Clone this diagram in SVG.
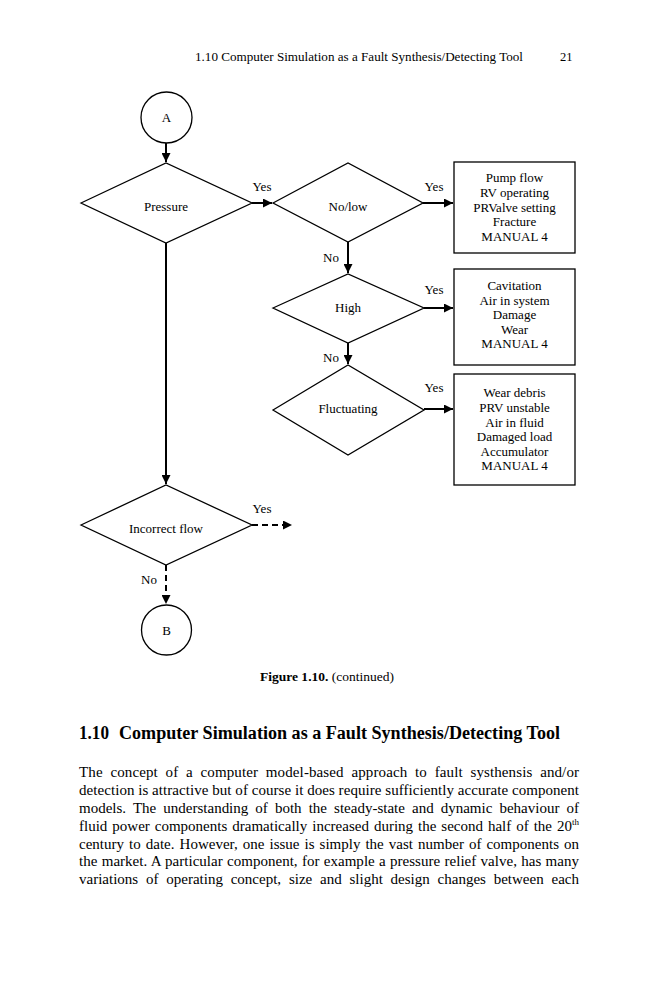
<svg xmlns="http://www.w3.org/2000/svg" width="659" height="1000" viewBox="0 0 659 1000">
<defs>
<marker id="ah" viewBox="0 0 10 10" refX="10" refY="5" markerWidth="10" markerHeight="9" markerUnits="userSpaceOnUse" orient="auto">
<path d="M0,0 L10,5 L0,10 z" fill="#000"/>
</marker>
<style>
text{font-family:"Liberation Serif","Times New Roman",serif;fill:#000}
.n{font-size:13px;text-anchor:middle}
.shape{fill:#fff;stroke:#000;stroke-width:1.3}
.c{stroke:#000;stroke-width:2;fill:none}
.d{stroke-dasharray:6,4}
.p{font-size:15px}
</style>
</defs>
<rect width="659" height="1000" fill="#fff"/>
<text x="195" y="61" style="font-size:12.5px" textLength="328" lengthAdjust="spacingAndGlyphs">1.10 Computer Simulation as a Fault Synthesis/Detecting Tool</text>
<text x="560" y="61" style="font-size:12.5px">21</text>

<g id="connectors">
<line class="c" x1="166" y1="143" x2="166" y2="162" marker-end="url(#ah)"/>
<line class="c" x1="252" y1="203" x2="272" y2="203" marker-end="url(#ah)"/>
<line class="c" x1="423" y1="203" x2="453" y2="203" marker-end="url(#ah)"/>
<line class="c" x1="348" y1="242" x2="348" y2="273" marker-end="url(#ah)"/>
<line class="c" x1="424" y1="308" x2="453" y2="308" marker-end="url(#ah)"/>
<line class="c" x1="348" y1="343" x2="348" y2="364" marker-end="url(#ah)"/>
<line class="c" x1="424" y1="409" x2="453" y2="409" marker-end="url(#ah)"/>
<line class="c" x1="166" y1="243" x2="166" y2="484" marker-end="url(#ah)"/>
<line class="c d" x1="252" y1="525" x2="292" y2="525" marker-end="url(#ah)"/>
<line class="c d" x1="166" y1="565" x2="166" y2="604" marker-end="url(#ah)"/>
<text class="n" x="262" y="191">Yes</text>
<text class="n" x="434" y="191">Yes</text>
<text class="n" x="331" y="262">No</text>
<text class="n" x="434" y="294">Yes</text>
<text class="n" x="331" y="362">No</text>
<text class="n" x="434" y="392">Yes</text>
<text class="n" x="262" y="513">Yes</text>
<text class="n" x="149" y="584">No</text>
</g>

<g id="nodeA">
<circle class="shape" cx="166.5" cy="117.5" r="25.5"/>
<text class="n" x="166.5" y="122">A</text>
</g>
<g id="pressure">
<polygon class="shape" points="81,203 166,163 252,203 166,243"/>
<text class="n" x="166" y="211">Pressure</text>
</g>
<g id="nolow">
<polygon class="shape" points="273,203 348,163 423,203 348,242"/>
<text class="n" x="348" y="211">No/low</text>
</g>
<g id="box1">
<rect class="shape" x="454" y="162" width="121" height="91"/>
<text class="n" x="514.5" y="182">Pump flow</text>
<text class="n" x="514.5" y="197">RV operating</text>
<text class="n" x="514.5" y="212">PRValve setting</text>
<text class="n" x="514.5" y="226">Fracture</text>
<text class="n" x="514.5" y="241">MANUAL 4</text>
</g>
<g id="high">
<polygon class="shape" points="273,308 348,274 424,308 348,343"/>
<text class="n" x="348" y="312">High</text>
</g>
<g id="box2">
<rect class="shape" x="454" y="269" width="121" height="96"/>
<text class="n" x="514.5" y="290">Cavitation</text>
<text class="n" x="514.5" y="305">Air in system</text>
<text class="n" x="514.5" y="319">Damage</text>
<text class="n" x="514.5" y="334">Wear</text>
<text class="n" x="514.5" y="348">MANUAL 4</text>
</g>
<g id="fluctuating">
<polygon class="shape" points="273,410 348,365 424,410 348,455"/>
<text class="n" x="348" y="413">Fluctuating</text>
</g>
<g id="box3">
<rect class="shape" x="454" y="374" width="121" height="111"/>
<text class="n" x="514.5" y="397">Wear debris</text>
<text class="n" x="514.5" y="412">PRV unstable</text>
<text class="n" x="514.5" y="427">Air in fluid</text>
<text class="n" x="514.5" y="441">Damaged load</text>
<text class="n" x="514.5" y="456">Accumulator</text>
<text class="n" x="514.5" y="470">MANUAL 4</text>
</g>
<g id="incorrect">
<polygon class="shape" points="81,525 166,485 252,525 166,565"/>
<text class="n" x="166" y="533">Incorrect flow</text>
</g>
<g id="nodeB">
<circle class="shape" cx="166.5" cy="630" r="25"/>
<text class="n" x="166.5" y="634.5">B</text>
</g>

<text x="260" y="681" style="font-size:13.3px" textLength="134" lengthAdjust="spacingAndGlyphs"><tspan font-weight="bold">Figure 1.10.</tspan> (continued)</text>
<text x="79" y="739" style="font-size:18px;font-weight:bold" textLength="30" lengthAdjust="spacingAndGlyphs">1.10</text>
<text x="119" y="739" style="font-size:18px;font-weight:bold" textLength="441" lengthAdjust="spacingAndGlyphs">Computer Simulation as a Fault Synthesis/Detecting Tool</text>

<text class="p" x="79" y="777" word-spacing="3.9" textLength="500" lengthAdjust="spacing">The concept of a computer model-based approach to fault systhensis and/or</text>
<text class="p" x="79" y="795" word-spacing="-0.05" textLength="500" lengthAdjust="spacing">detection is attractive but of course it does require sufficiently accurate component</text>
<text class="p" x="79" y="813" word-spacing="3.3" textLength="500" lengthAdjust="spacing">models. The understanding of both the steady-state and dynamic behaviour of</text>
<text class="p" x="79" y="831" word-spacing="1.2" textLength="500" lengthAdjust="spacing">fluid power components dramatically increased during the second half of the 20<tspan font-size="9" dy="-6">th</tspan></text>
<text class="p" x="79" y="849" word-spacing="1.25" textLength="500" lengthAdjust="spacing">century to date. However, one issue is simply the vast number of components on</text>
<text class="p" x="79" y="866" word-spacing="0.53" textLength="500" lengthAdjust="spacing">the market. A particular component, for example a pressure relief valve, has many</text>
<text class="p" x="79" y="884" word-spacing="4.05" textLength="500" lengthAdjust="spacing">variations of operating concept, size and slight design changes between each</text>
</svg>
